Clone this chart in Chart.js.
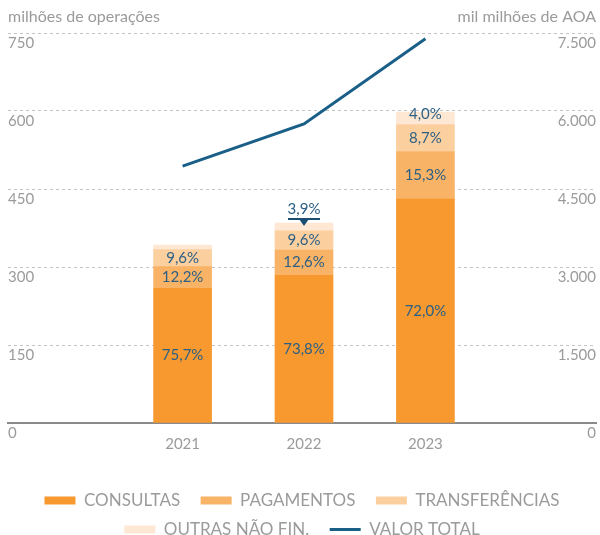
<!DOCTYPE html>
<html>

<head>
    <script src="https://cdn.jsdelivr.net/npm/chart.js@4.4.0/dist/chart.umd.min.js"></script>
    <style>
        body { margin: 0; background: #fff; }
    </style>
</head>

<body>
    <canvas id="opsChart" width="600" height="535"></canvas>

<script>
    // operations per year (millions) and the share of each type
    var years = [2021, 2022, 2023];
    var totalOps = [342, 385, 598];
    var pctConsultas = [75.7, 73.8, 72.0];
    var pctPagamentos = [12.2, 12.6, 15.3];
    var pctTransferencias = [9.6, 9.6, 8.7];
    var pctOutras = [2.5, 3.9, 4.0];
    // total value, mil milhões de AOA
    var valorTotal = [4940, 5750, 7390];

    var leftTicks = [0, 150, 300, 450, 600, 750];
    var rightTicks = [0, 1500, 3000, 4500, 6000, 7500];

    var FONT = 'Lato, "Open Sans", sans-serif';
    var GREY = '#9b9b9b';
    var LABEL_BLUE = '#2b5f84';

    function segment(pcts) {
        return years.map(function (y, i) {
            return { x: y, y: totalOps[i] * pcts[i] / 100 };
        });
    }

    function barSet(label, pcts, color) {
        return {
            type: 'bar',
            label: label,
            data: segment(pcts),
            pcts: pcts,
            backgroundColor: color,
            borderWidth: 0,
            barThickness: 58,
            stack: 'ops',
            yAxisID: 'y',
            order: 1
        };
    }

    function fmtPct(v) {
        return v.toFixed(1).replace('.', ',') + '%';
    }

    function fmtThousands(v) {
        return String(v).replace(/\B(?=(\d{3})+(?!\d))/g, '.');
    }

    // unit captions above both axes
    var captions = {
        id: 'captions',
        afterDraw: function (chart) {
            var c = chart.ctx;
            c.save();
            c.font = '16px ' + FONT;
            c.fillStyle = GREY;
            c.textBaseline = 'middle';
            c.textAlign = 'left';
            c.fillText('milhões de operações', 8, 17);
            c.textAlign = 'right';
            c.fillText('mil milhões de AOA', 596, 17);
            c.restore();
        }
    };

    // percentage labels on the stacked segments
    var pctLabels = {
        id: 'pctLabels',
        afterDatasetsDraw: function (chart) {
            var c = chart.ctx;
            c.save();
            c.font = '15px ' + FONT;
            c.fillStyle = LABEL_BLUE;
            c.textAlign = 'center';
            c.textBaseline = 'middle';
            chart.data.datasets.forEach(function (ds, di) {
                if (ds.type !== 'bar') return;
                chart.getDatasetMeta(di).data.forEach(function (bar, i) {
                    var h = bar.base - bar.y;
                    var txt = fmtPct(ds.pcts[i]);
                    if (h < 6) return;
                    if (h < 10) {
                        // too thin: label above the bar with a pointer
                        var top = bar.y;
                        c.fillText(txt, bar.x, top - 14);
                        c.fillStyle = '#1b4f72';
                        c.fillRect(bar.x - 16, top - 5, 32, 2);
                        c.beginPath();
                        c.moveTo(bar.x - 5, top - 4);
                        c.lineTo(bar.x + 5, top - 4);
                        c.lineTo(bar.x, top + 3);
                        c.closePath();
                        c.fill();
                        c.fillStyle = LABEL_BLUE;
                        return;
                    }
                    c.fillText(txt, bar.x, (bar.y + bar.base) / 2 - (h < 16 ? 4 : 0));
                });
            });
            c.restore();
        }
    };

    // a little extra room after the items that do not close a legend row
    var legendGap = ['CONSULTAS', 'PAGAMENTOS', 'OUTRAS NÃO FIN.'];

    new Chart(document.getElementById('opsChart'), {
        data: {
            datasets: [
                barSet('CONSULTAS', pctConsultas, '#f7992f'),
                barSet('PAGAMENTOS', pctPagamentos, '#f9b366'),
                barSet('TRANSFERÊNCIAS', pctTransferencias, '#fccf9f'),
                barSet('OUTRAS NÃO FIN.', pctOutras, '#fee8d4'),
                {
                    type: 'line',
                    label: 'VALOR TOTAL',
                    data: years.map(function (y, i) { return { x: y, y: valorTotal[i] }; }),
                    yAxisID: 'y1',
                    borderColor: '#1a5f88',
                    backgroundColor: '#1a5f88',
                    borderWidth: 3,
                    pointRadius: 0,
                    pointStyle: 'line',
                    tension: 0,
                    order: 0
                }
            ]
        },
        options: {
            responsive: false,
            animation: false,
            devicePixelRatio: 1,
            layout: { padding: { top: 33, left: 8, right: 4, bottom: -13 } },
            plugins: {
                tooltip: { enabled: false },
                legend: {
                    position: 'bottom',
                    labels: {
                        usePointStyle: true,
                        pointStyleWidth: 31,
                        boxHeight: 8,
                        padding: 12,
                        color: GREY,
                        font: { family: FONT, size: 17 },
                        sort: function (a, b) { return a.datasetIndex - b.datasetIndex; },
                        generateLabels: function (chart) {
                            var items = Chart.defaults.plugins.legend.labels.generateLabels(chart);
                            items.forEach(function (it) {
                                var ds = chart.data.datasets[it.datasetIndex];
                                if (legendGap.indexOf(it.text) >= 0) it.text += '\u2002';
                                if (ds.type === 'line') {
                                    it.pointStyle = 'line';
                                    it.lineWidth = 3;
                                } else {
                                    it.pointStyle = 'rect';
                                    it.lineWidth = 0;
                                    it.strokeStyle = 'rgba(0,0,0,0)';
                                }
                            });
                            return items;
                        }
                    }
                }
            },
            scales: {
                x: {
                    type: 'linear',
                    offset: false,
                    min: 2019.562,
                    max: 2024.405,
                    grid: { display: false },
                    border: { display: true, color: '#8a8a8a', width: 2 },
                    afterBuildTicks: function (s) {
                        s.ticks = years.map(function (v) { return { value: v }; });
                    },
                    afterFit: function (s) { s.height = 57; },
                    ticks: {
                        callback: function (v) { return String(v); },
                        color: GREY,
                        font: { family: FONT, size: 15 },
                        padding: 4,
                        maxRotation: 0
                    }
                },
                y: {
                    position: 'left',
                    stacked: true,
                    min: 0,
                    max: 750,
                    afterBuildTicks: function (s) {
                        s.ticks = leftTicks.map(function (v) { return { value: v }; });
                    },
                    grid: { color: '#c4c4c4', drawTicks: false, lineWidth: 1 },
                    border: { display: false, dash: [3, 3] },
                    ticks: {
                        mirror: true,
                        padding: 0,
                        labelOffset: 10,
                        color: GREY,
                        font: { family: FONT, size: 15 }
                    }
                },
                y1: {
                    position: 'right',
                    min: 0,
                    max: 7500,
                    afterBuildTicks: function (s) {
                        s.ticks = rightTicks.map(function (v) { return { value: v }; });
                    },
                    grid: { display: false, drawTicks: false },
                    border: { display: false },
                    ticks: {
                        mirror: true,
                        padding: 0,
                        labelOffset: 10,
                        color: GREY,
                        font: { family: FONT, size: 15 },
                        callback: function (v) { return fmtThousands(v); }
                    }
                }
            }
        },
        plugins: [captions, pctLabels]
    });
</script>
</body>

</html>
